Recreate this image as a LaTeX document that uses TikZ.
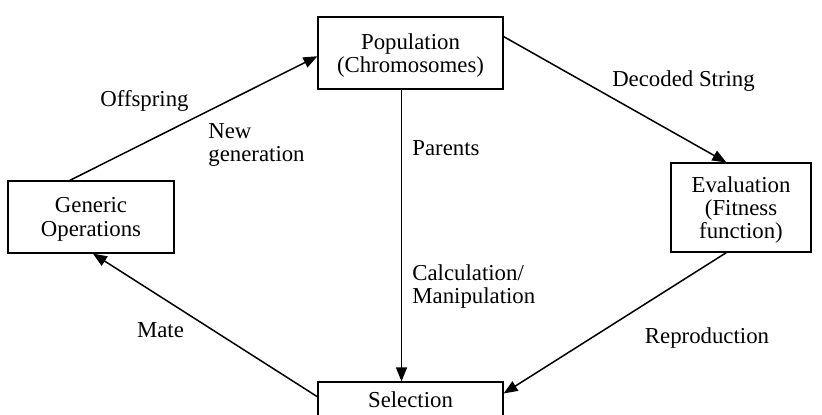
\documentclass[tikz,border=0pt]{standalone}
\usepackage{fontspec}
\setmainfont{Liberation Serif}
\usepackage{tikz}
\usetikzlibrary{arrows,arrows.meta,positioning}

\begin{document}
\begin{tikzpicture}[x=0.5pt,y=-0.5pt,
                box/.style={draw,line width=0.6pt,inner sep=0pt,align=center,text depth=0pt,font=\fontsize{11.4}{11.6}\selectfont},
                lbl/.style={inner sep=0pt,align=left,font=\fontsize{11.4}{11.6}\selectfont},
                arr/.style={-{Triangle[length=7pt,width=5.5pt]},line width=0.75pt}]
                \useasboundingbox (0,0) rectangle (822,415);

                \node[box,minimum width=92.5pt,minimum height=36pt] (pop) at (410.5,53) {Population\\(Chromosomes)};
                \node[box,minimum width=92.5pt,minimum height=18pt] (sel) at (410.5,400) {Selection};
                \node[box,minimum width=83pt,minimum height=36pt] (gen) at (91,217) {Generic\\Operations};
                \node[box,minimum width=70pt,minimum height=44.5pt] (eval) at (741,207.5) {Evaluation\\(Fitness\\function)};

                \draw[arr] (gen.120) -- (pop.182);
                \draw[arr] (pop.10) -- (eval.108);
                \draw[arr] ([xshift=-4.5pt]pop.south) -- ([xshift=-4.5pt]sel.north);
                \draw[arr] (eval.252) -- (sel.4);
                \draw[arr] (sel.178) -- (gen.273);

                \node[lbl] (offs) at (144.5,101) {Offspring};
                \node[lbl,anchor=west] (newg) at (208,145) {New\\generation};
                \node[lbl] (dec) at (683.5,81) {Decoded String};
                \node[lbl,anchor=west] (par) at (412,148) {Parents};
                \node[lbl,anchor=west] (calc) at (412,286.5) {Calculation/\\Manipulation};
                \node[lbl] (mate) at (160.5,330) {Mate};
                \node[lbl] (repr) at (707,338) {Reproduction};
\end{tikzpicture}
\end{document}
